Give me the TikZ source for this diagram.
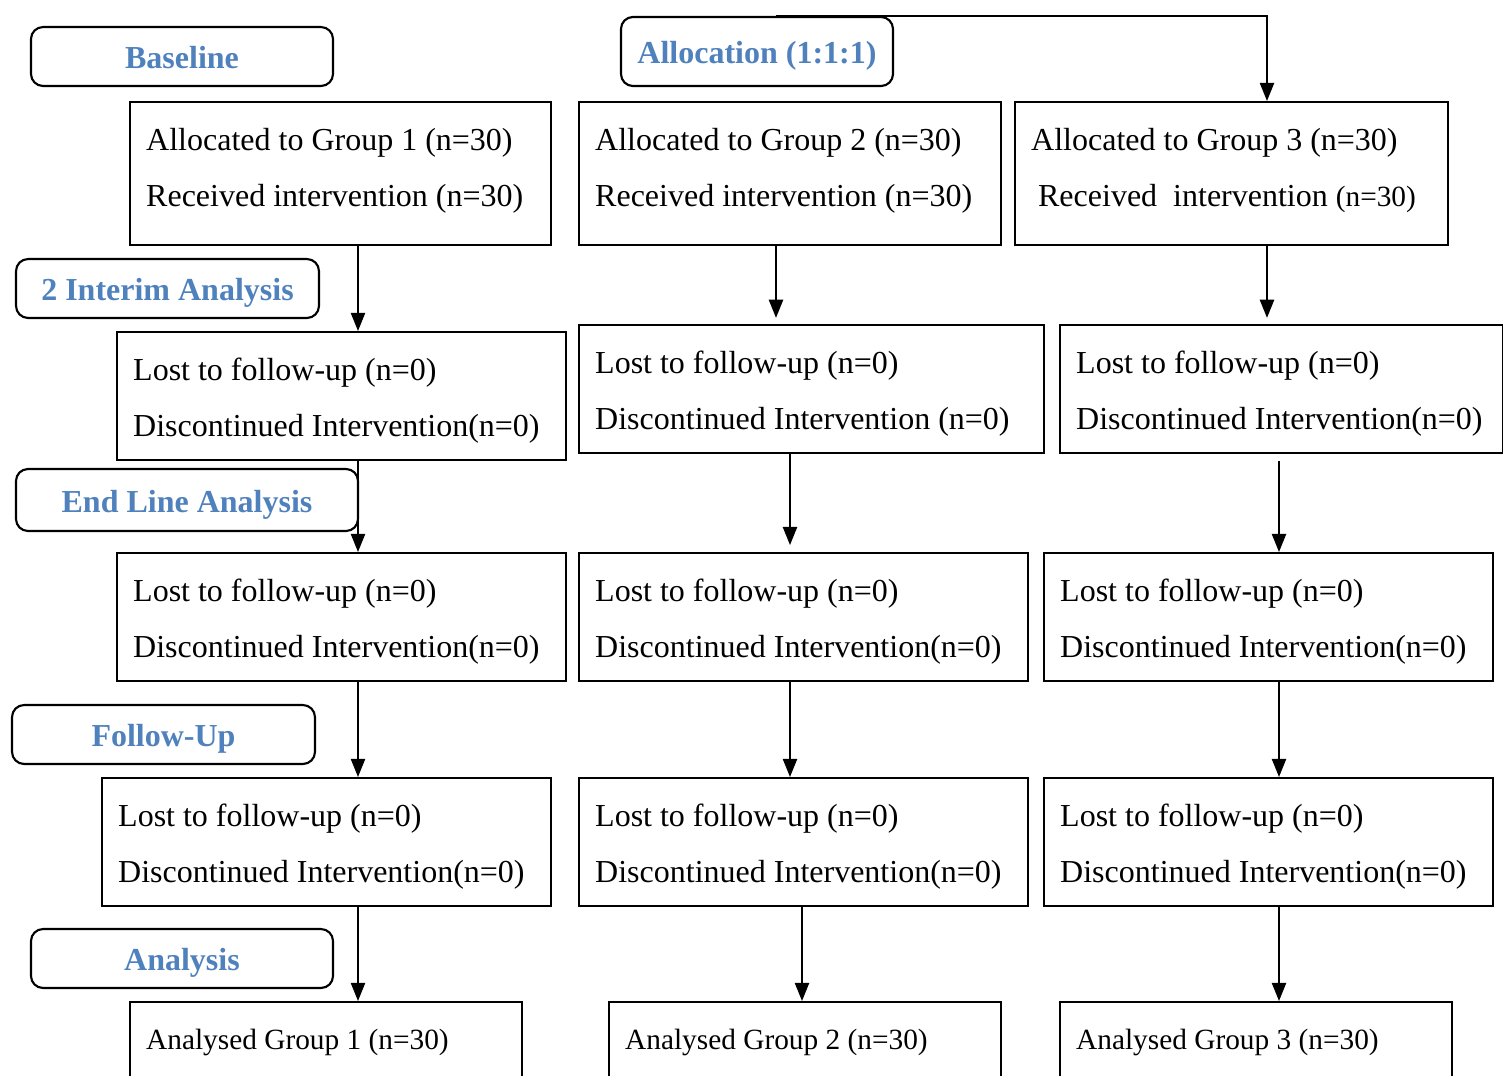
\documentclass[tikz,border=0pt]{standalone}
\usepackage{fontspec}
\setmainfont{Liberation Serif}
\usetikzlibrary{arrows.meta}
\definecolor{lblue}{RGB}{79, 129, 189}

\begin{document}
\begin{tikzpicture}[x = 0.375pt, y = -0.375pt,
	grp/.style = {draw, line width = 0.9pt, anchor = north west, align = flush left,
		inner xsep = 6pt, inner ysep = 0pt, font = \fontsize{12}{21}\selectfont},
	lowtext/.style = {execute at begin node = {\rule{0pt}{11.5pt}}},
	hightext/.style = {execute at end node = {\rule[-4.8pt]{0pt}{0pt}}},
	stage/.style = {draw, line width = 0.8pt, rounded corners = 4.5pt, inner sep = 0pt,
		text height = 9pt, text depth = 0pt,
		text = lblue, font = \fontsize{12}{14}\selectfont\bfseries},
	arr/.style = {line width = 0.75pt, -{Triangle[width = 5.3pt, length = 6.8pt]}}]
			\path[use as bounding box, clip] (0,0) rectangle (1503,1075);
			% stage labels
			\node (base) at (182,56.5) [stage, minimum width = 113.25pt, minimum height = 22.1pt] {Baseline};
			\node (alloc) at (757,51.5) [stage, minimum width = 102pt, minimum height = 25.9pt] {Allocation (1:1:1)};
			\node (interim) at (167.5,288.5) [stage, minimum width = 113.6pt, minimum height = 22.1pt] {2 Interim Analysis};
			\node (endline) at (187,500) [stage, minimum width = 128.25pt, minimum height = 23.25pt] {End Line Analysis};
			\node (follow) at (163.5,734.5) [stage, minimum width = 113.6pt, minimum height = 22.1pt] {Follow-Up};
			\node (analysis) at (182,958.5) [stage, minimum width = 113.25pt, minimum height = 22.1pt] {Analysis};
			% row 1
			\node (r1a) at (129,101) [grp, hightext, text width = 145.9pt, minimum height = 53.6pt] {Allocated to Group 1 (n=30)\\Received intervention (n=30)};
			\node (r1b) at (578,101) [grp, hightext, text width = 146.25pt, minimum height = 53.6pt] {Allocated to Group 2 (n=30)\\Received intervention (n=30)};
			\node (r1c) at (1014,101) [grp, hightext, text width = 150.4pt, minimum height = 53.6pt] {Allocated to Group 3 (n=30)\\\hspace*{2.6pt}Received~~intervention {\fontsize{11}{21}\selectfont(n=30)}};
			% row 2
			\node (r2a) at (116,331) [grp, lowtext, text width = 156.4pt, minimum height = 48pt] {Lost to follow-up (n=0)\\Discontinued Intervention(n=0)};
			\node (r2b) at (578,324) [grp, lowtext, text width = 162.4pt, minimum height = 48pt] {Lost to follow-up (n=0)\\Discontinued Intervention (n=0)};
			\node (r2c) at (1059,324) [grp, lowtext, text width = 154.1pt, minimum height = 48pt] {Lost to follow-up (n=0)\\Discontinued Intervention(n=0)};
			% row 3
			\node (r3a) at (116,552) [grp, lowtext, text width = 156.4pt, minimum height = 48pt] {Lost to follow-up (n=0)\\Discontinued Intervention(n=0)};
			\node (r3b) at (578,552) [grp, lowtext, text width = 156.4pt, minimum height = 48pt] {Lost to follow-up (n=0)\\Discontinued Intervention(n=0)};
			\node (r3c) at (1043,552) [grp, lowtext, text width = 156.4pt, minimum height = 48pt] {Lost to follow-up (n=0)\\Discontinued Intervention(n=0)};
			% row 4
			\node (r4a) at (101,777) [grp, lowtext, text width = 156.4pt, minimum height = 48pt] {Lost to follow-up (n=0)\\Discontinued Intervention(n=0)};
			\node (r4b) at (578,777) [grp, lowtext, text width = 156.4pt, minimum height = 48pt] {Lost to follow-up (n=0)\\Discontinued Intervention(n=0)};
			\node (r4c) at (1043,777) [grp, lowtext, text width = 156.4pt, minimum height = 48pt] {Lost to follow-up (n=0)\\Discontinued Intervention(n=0)};
			% row 5
			\node (r5a) at (129,1001) [grp, text width = 135pt, minimum height = 30pt, font = \fontsize{11}{21}\selectfont] {Analysed Group 1 (n=30)};
			\node (r5b) at (608,1001) [grp, text width = 135pt, minimum height = 30pt, font = \fontsize{11}{21}\selectfont] {Analysed Group 2 (n=30)};
			\node (r5c) at (1059,1001) [grp, text width = 135pt, minimum height = 30pt, font = \fontsize{11}{21}\selectfont] {Analysed Group 3 (n=30)};
			% arrow columns
			\coordinate (ka) at (358,0);
			\coordinate (kb) at (776,0);
			\coordinate (kc) at (790,0);
			\coordinate (kd) at (802,0);
			\coordinate (ke) at (1267,0);
			\coordinate (kf) at (1279,0);
			\draw[arr] (alloc.north -| kb) -| (r1c.north -| ke);
			\draw[arr] (r1a.south -| ka) -- (r2a.north -| ka);
			\draw[arr] (r2a.south -| ka) -- (r3a.north -| ka);
			\draw[arr] (r3a.south -| ka) -- (r4a.north -| ka);
			\draw[arr] (r4a.south -| ka) -- (r5a.north -| ka);
			\draw[arr, shorten > = 2.3pt] (r1b.south -| kb) -- (r2b.north -| kb);
			\draw[arr, shorten > = 2.6pt] (r2b.south -| kc) -- (r3b.north -| kc);
			\draw[arr] (r3b.south -| kc) -- (r4b.north -| kc);
			\draw[arr] (r4b.south -| kd) -- (r5b.north -| kd);
			\draw[arr, shorten > = 2.3pt] (r1c.south -| ke) -- (r2c.north -| ke);
			\draw[arr, shorten < = 2.6pt] (r2c.south -| kf) -- (r3c.north -| kf);
			\draw[arr] (r3c.south -| kf) -- (r4c.north -| kf);
			\draw[arr] (r4c.south -| kf) -- (r5c.north -| kf);
			\end{tikzpicture}
\end{document}
